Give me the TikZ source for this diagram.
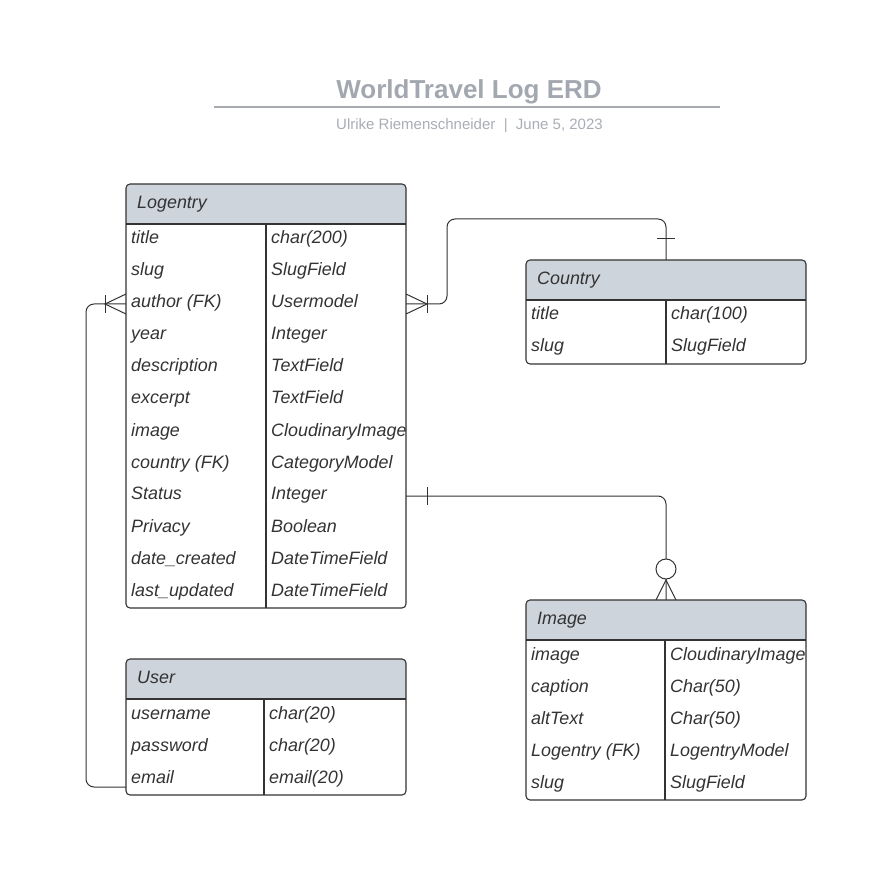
\documentclass[tikz,border=0pt]{standalone}
\usepackage{fontspec}
\setmainfont{Liberation Sans}
\usetikzlibrary{calc}
\definecolor{hdr}{RGB}{206,212,220}
\definecolor{ink}{RGB}{51,51,51}
\definecolor{titlegray}{RGB}{163,167,176}
\definecolor{subgray}{RGB}{168,173,181}
\definecolor{rulegray}{RGB}{167,170,175}
\tikzset{
  tabline/.style={draw=ink, line width=1.1pt},
  tablebox/.style={draw=ink, line width=1.1pt, rounded corners=4pt, rectangle, inner sep=0pt, outer sep=0pt, minimum width=280pt},
  celltext/.style={font=\itshape\fontsize{17.9}{20}\selectfont, text=ink, inner sep=0pt, anchor=base west},
  hdrtext/.style={celltext},
  conn/.style={draw=ink, line width=1pt},
}
\newcommand\erdtab[7]{%
  \pgfmathsetmacro\tabh{40+32*#4}
  \fill[hdr, rounded corners=4pt] (#2,#3) rectangle ++(280,40);
  \fill[hdr] (#2,#3+20) rectangle ++(280,20);
  \draw[tabline] (#2,#3+40) -- ++(280,0);
  \draw[tabline] (#2+#5,#3+40) -- ++(0,32*#4);
  \node[hdrtext] (#1-head) at (#2+11,#3+24.5) {#6};
  \foreach \a/\b [count=\i] in {#7} {
    \node[celltext] (#1-l\i) at (#2+5,#3+40+32*\i-12) {\a};
    \node[celltext] (#1-r\i) at (#2+#5+5,#3+40+32*\i-12) {\b};
    \coordinate (#1-W\i) at (#2,#3+40+32*\i-16);
    \coordinate (#1-E\i) at (#2+280,#3+40+32*\i-16);
  }
  \node[tablebox, minimum height=\tabh pt, anchor=north west] (#1) at (#2,#3) {};
}
\begin{document}
\begin{tikzpicture}[x=1pt,y=-1pt]
\useasboundingbox (0,0) rectangle (895,885);
% title block
\node[font=\bfseries\fontsize{26}{30}\selectfont, text=titlegray, inner sep=0pt, anchor=base] (title) at (469,98.5) {WorldTravel Log ERD};
\draw[rulegray, line width=2pt] (214,107) -- (720,107);
\node[font=\fontsize{15}{18}\selectfont, text=subgray, inner sep=0pt, anchor=base] (subtitle) at (469.5,129.5) {Ulrike Riemenschneider\ \ |\ \ June 5, 2023};
% tables
\erdtab{logentry}{126}{184}{12}{140}{Logentry}{title/char(200), slug/SlugField, author (FK)/Usermodel, year/Integer, description/TextField, excerpt/TextField, image/CloudinaryImage, country (FK)/CategoryModel, Status/Integer, Privacy/Boolean, date\_created/DateTimeField, last\_updated/DateTimeField}
\erdtab{country}{526}{260}{2}{140}{Country}{title/char(100), slug/SlugField}
\erdtab{image}{526}{600}{5}{139}{Image}{image/CloudinaryImage, caption/Char(50), altText/Char(50), Logentry (FK)/LogentryModel, slug/SlugField}
\erdtab{user}{126}{659}{3}{138}{User}{username/char(20), password/char(20), email/email(20)}
% connectors
\coordinate (uconn) at ([yshift=8pt]user.south west);
\draw[conn, rounded corners=8pt] (uconn) -- ++(-40,0) |- (logentry-W3);
\draw[conn, rounded corners=8pt] (logentry-E3) -- ++(41,0) -- ++(0,-85) -| (country.north);
\draw[conn, rounded corners=8pt] (logentry-E9) -| (image.north);
% markers: user -> logentry (many)
\draw[conn] ([yshift=10pt]logentry-W3) -- ([xshift=-21pt]logentry-W3) -- ([yshift=-10pt]logentry-W3);
\draw[conn] ([xshift=-21pt,yshift=9pt]logentry-W3) -- ([xshift=-21pt,yshift=-9pt]logentry-W3);
% logentry -> country
\draw[conn] ([yshift=10pt]logentry-E3) -- ([xshift=21pt]logentry-E3) -- ([yshift=-10pt]logentry-E3);
\draw[conn] ([xshift=21pt,yshift=9pt]logentry-E3) -- ([xshift=21pt,yshift=-9pt]logentry-E3);
\draw[conn] ([yshift=21pt,xshift=-9pt]country.north) -- ([yshift=21pt,xshift=9pt]country.north);
% logentry -> image
\draw[conn] ([xshift=21pt,yshift=9pt]logentry-E9) -- ([xshift=21pt,yshift=-9pt]logentry-E9);
\draw[conn, fill=white] ([yshift=31pt]image.north) circle (10pt);
\draw[conn] ([xshift=-10pt]image.north) -- ([yshift=20pt]image.north) -- ([xshift=10pt]image.north);
\end{tikzpicture}
\end{document}
